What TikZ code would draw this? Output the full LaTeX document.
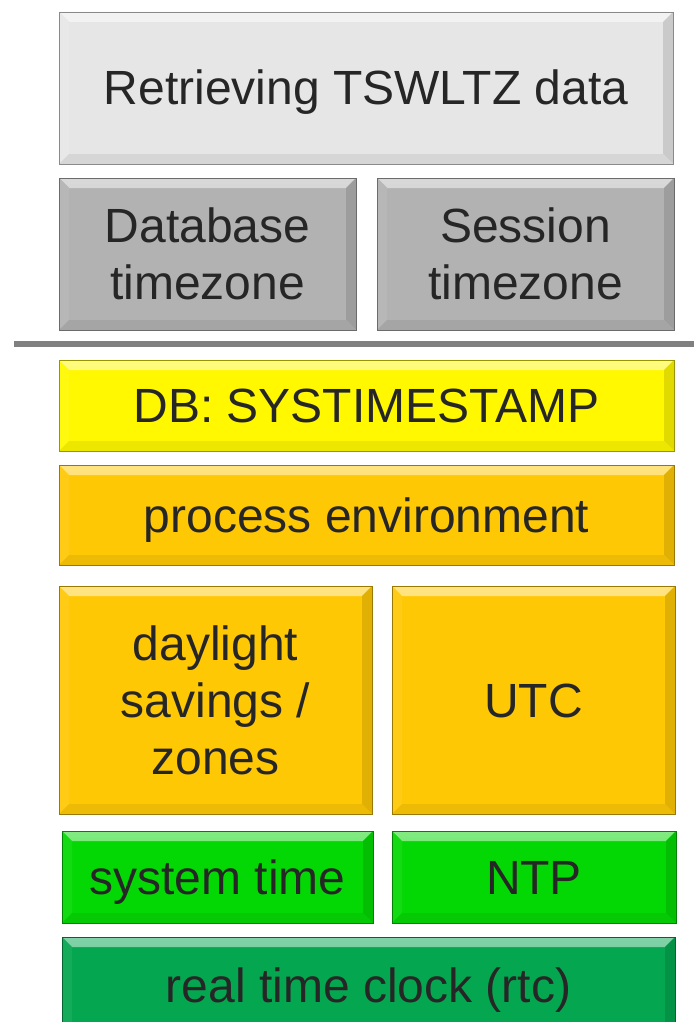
\documentclass[tikz,border=0pt]{standalone}
\usepackage{fontspec}
\setmainfont{Liberation Sans}
\definecolor{txt}{HTML}{262626}
\definecolor{cLight}{HTML}{E6E6E6}
\definecolor{cGray}{HTML}{B2B2B2}
\definecolor{cYellow}{HTML}{FFF800}
\definecolor{cOrange}{HTML}{FFC805}
\definecolor{cGreen}{HTML}{04D804}
\definecolor{cDark}{HTML}{05A650}
\definecolor{cRule}{HTML}{808080}

% bevel bands painted inside a rectangular node
\newcommand\bevelfill[1]{%
  \def\bv{10pt}%
  \shade[top color=#1!50!white, bottom color=#1!85!white]
    (path picture bounding box.north west) -- (path picture bounding box.north east)
    -- ([shift={(-\bv,-\bv)}]path picture bounding box.north east)
    -- ([shift={(\bv,-\bv)}]path picture bounding box.north west) -- cycle;
  \fill[#1!94!white]
    (path picture bounding box.north west) -- ([shift={(\bv,-\bv)}]path picture bounding box.north west)
    -- ([shift={(\bv,\bv)}]path picture bounding box.south west)
    -- (path picture bounding box.south west) -- cycle;
  \fill[#1!88!black]
    (path picture bounding box.north east) -- (path picture bounding box.south east)
    -- ([shift={(-\bv,\bv)}]path picture bounding box.south east)
    -- ([shift={(-\bv,-\bv)}]path picture bounding box.north east) -- cycle;
  \fill[#1!93!black]
    (path picture bounding box.south west) -- ([shift={(\bv,\bv)}]path picture bounding box.south west)
    -- ([shift={(-\bv,\bv)}]path picture bounding box.south east)
    -- (path picture bounding box.south east) -- cycle;
}

\tikzset{
  bevelbox/.style={rectangle, anchor=north west, inner sep=0pt, outer sep=0pt,
    fill=#1, draw=#1!60!black, line width=0.8pt, text=txt, align=center,
    font=\fontsize{48}{57}\selectfont,
    path picture={\bevelfill{#1}}},
  oneline/.style={text height=34pt, text depth=0pt},
  sepline/.style={line width=6pt, draw=cRule}
}

\begin{document}
\begin{tikzpicture}[x=1pt,y=-1pt]
\useasboundingbox (0,0) rectangle (694,1022);

\node[bevelbox=cLight, oneline, minimum width=614pt, minimum height=152pt] (title) at (59,12) {Retrieving TSWLTZ data};
\node[bevelbox=cGray, minimum width=297pt, minimum height=152pt] (dbtz) at (59,178) {Database\\timezone};
\node[bevelbox=cGray, minimum width=297pt, minimum height=152pt] (sesstz) at (377,178) {Session\\timezone};

\coordinate (sepL) at (14,344);
\coordinate (sepR) at (694,344);
\draw[sepline] (sepL) -- (sepR);

\node[bevelbox=cYellow, oneline, minimum width=615pt, minimum height=91pt] (systs) at (59,360) {DB: SYSTIMESTAMP};
\node[bevelbox=cOrange, oneline, minimum width=615pt, minimum height=100pt] (procenv) at (59,465) {process environment};
\node[bevelbox=cOrange, minimum width=313pt, minimum height=228pt] (dst) at (59,586) {daylight\\savings /\\zones};
\node[bevelbox=cOrange, oneline, minimum width=283pt, minimum height=228pt] (utc) at (392,586) {UTC};
\node[bevelbox=cGreen, oneline, minimum width=311pt, minimum height=92pt] (systime) at (62,831) {system time};
\node[bevelbox=cGreen, oneline, minimum width=284pt, minimum height=92pt] (ntp) at (392,831) {NTP};
\node[bevelbox=cDark, oneline, minimum width=613pt, minimum height=96pt] (rtc) at (62,937) {real time clock (rtc)};
\end{tikzpicture}
\end{document}
